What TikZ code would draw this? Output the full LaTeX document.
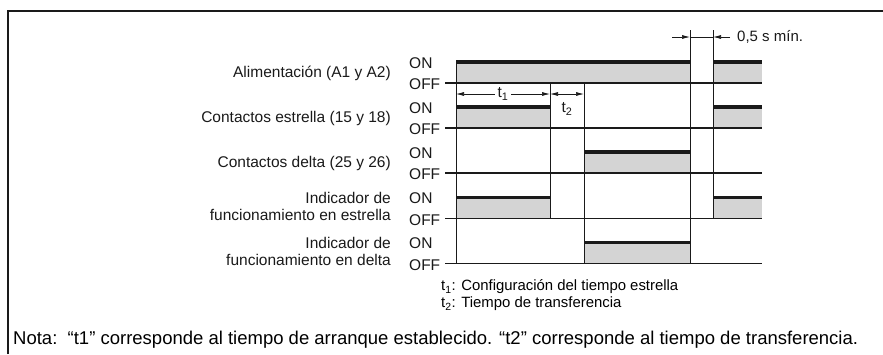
\documentclass[tikz,border=0pt]{standalone}
\usepackage{fontspec}
\setmainfont{Liberation Sans}
\usetikzlibrary{arrows.meta}
\definecolor{pulsegrey}{HTML}{D4D4D4}
\definecolor{inkblack}{HTML}{1A1A1A}
\tikzset{
  sig/.style={font=\fontsize{15.5}{17}\selectfont, inner sep=0pt, text=inkblack},
  lvl/.style={sig, anchor=west},
  rowlbl/.style={sig, anchor=east},
  legend/.style={font=\fontsize{14.9}{17}\selectfont, inner sep=0pt, anchor=west},
  pulse/.style={fill=pulsegrey, draw=none},
  ontop/.style={line width=3.2pt, draw=inkblack},
  base/.style={line width=1.3pt, draw=inkblack},
  tick/.style={line width=0.8pt, draw=inkblack},
  dim/.style={{Latex[length=8pt,width=4pt]}-{Latex[length=8pt,width=4pt]},
              line width=0.7pt, draw=inkblack},
  dimin/.style={-{Latex[length=8pt,width=4pt]}, line width=0.7pt, draw=inkblack},
}

\begin{document}
\begin{tikzpicture}[x=1pt, y=-1pt]
\useasboundingbox (0,0) rectangle (883,354);
\fill[white] (0,0) rectangle (883,354);

% ------------------------- frame ----------------------------------------
\draw[line width=2pt, draw=inkblack] (8,354) -- (8,11) -- (883,11);

% ------------------------- pulses ---------------------------------------
\foreach \yo/\a/\b in {83/456/690, 83/713/762, 128/456/550, 128/713/762,
                       173/584/690, 218.5/456/550, 218.5/713/762, 263.5/584/690}{
  \fill[pulse] (\a,\yo-21) rectangle (\b,\yo);
  \draw[ontop] (\a,\yo-21) -- (\b,\yo-21);
}

% ------------------------- time marks -----------------------------------
\foreach \x/\ya/\yb in {456/61/263.5, 550/83/218.5, 584/83/263.5,
                        690/30/263.5, 713/30/218.5}{
  \draw[tick] (\x,\ya) -- (\x,\yb);
}

% ------------------------- levels ---------------------------------------
\foreach \yo [count=\i] in {83,128,173,218.5,263.5}{
  \draw[base] (445,\yo) -- (762,\yo);
  \node[lvl] (on\i)  at (409,\yo-20) {ON};
  \node[lvl] (off\i) at (409,\yo+1.5) {OFF};
}

% ------------------------- row labels -----------------------------------
\node[rowlbl] (lblpower)   at (391,73)    {Alimentación (A1 y A2)};
\node[rowlbl] (lblstar)    at (391,118)   {Contactos estrella (15 y 18)};
\node[rowlbl] (lbldelta)   at (391,163)   {Contactos delta (25 y 26)};
\node[rowlbl] (lblistarA)  at (391,197.5) {Indicador de};
\node[rowlbl] (lblistarB)  at (391,214.5) {funcionamiento en estrella};
\node[rowlbl] (lblideltaA) at (391,242.5) {Indicador de};
\node[rowlbl] (lblideltaB) at (391,259.5) {funcionamiento en delta};

% ------------------------- intervals ------------------------------------
\coordinate (tzero) at (456,94);
\coordinate (tone)  at (550,94);
\coordinate (ttwo)  at (584,94);
\draw[dim] (tzero) -- (tone)
  node[midway, sig, fill=white, inner xsep=3pt] (tonelbl) {t\textsubscript{1}};
\draw[dim] (tone) -- (ttwo);
\node[sig] (ttwolbl) at (567,109) {t\textsubscript{2}};

\coordinate (offedge) at (690,37);
\coordinate (onedge)  at (713,37);
\coordinate (offtail) at (672,37);
\coordinate (ontail)  at (730,37);
\draw[dimin] (offtail) -- (offedge);
\draw[dimin] (ontail) -- (onedge);
\draw[line width=0.7pt, draw=inkblack] (offedge) -- (onedge);
\node[sig, font=\fontsize{15}{17}\selectfont, anchor=west] (gaplbl) at (737,37) {0,5 s mín.};

% ------------------------- legend ---------------------------------------
\node[legend] (legone) at (441,287)
  {t\textsubscript{1}: Configuración del tiempo estrella};
\node[legend] (legtwo) at (441,304)
  {t\textsubscript{2}: Tiempo de transferencia};

\node[font=\fontsize{18.5}{21}\selectfont, inner sep=0pt, anchor=west] (nota) at (13,340)
  {Nota:\ \ “t1” corresponde al tiempo de arranque establecido. “t2” corresponde al tiempo de transferencia.};
\end{tikzpicture}
\end{document}
